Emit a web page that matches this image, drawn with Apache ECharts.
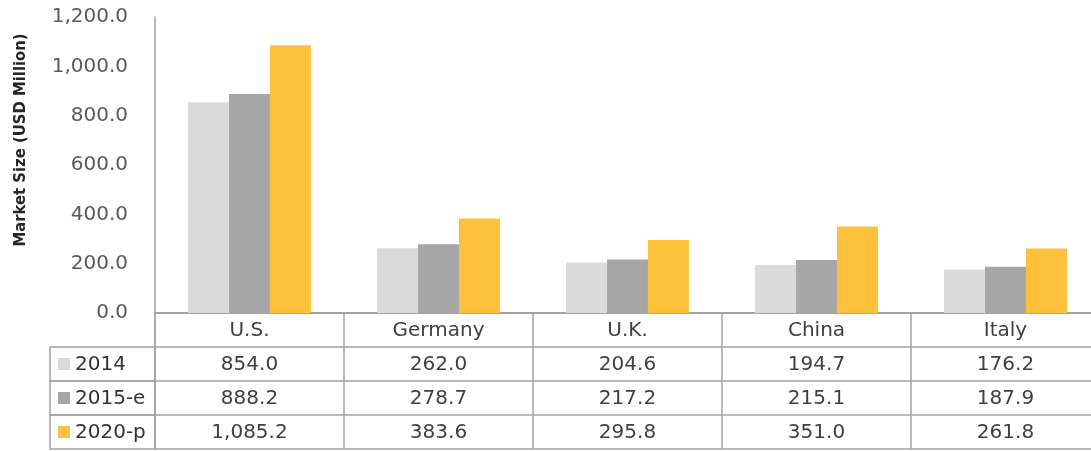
<!DOCTYPE html>
<html>
<head>
<meta charset="utf-8">
<script src="https://cdn.jsdelivr.net/npm/echarts@6/dist/echarts.min.js"></script>
<style>
  html, body { margin: 0; padding: 0; background: #ffffff; }
  #chart { width: 1091px; height: 451px; }
</style>
</head>
<body>
<div id="chart"></div>
<script>
// Market size by country, USD million
const categories = ['U.S.', 'Germany', 'U.K.', 'China', 'Italy'];
const seriesNames = ['2014', '2015-e', '2020-p'];
const values2014 = [854.0, 262.0, 204.6, 194.7, 176.2];
const values2015e = [888.2, 278.7, 217.2, 215.1, 187.9];
const values2020p = [1085.2, 383.6, 295.8, 351.0, 261.8];
const seriesColors = ['#dadada', '#a6a6a6', '#fdc13b'];
const axisTitle = 'Market Size (USD Million)';

const seriesValues = [values2014, values2015e, values2020p];
const FONT = '"DejaVu Sans", "Noto Sans", sans-serif';
const LINE = '#a3a3a3';
const TEXT_SIZE = 20;

function fmt(v) {
  return Number(v).toLocaleString('en-US', { minimumFractionDigits: 1, maximumFractionDigits: 1 });
}

// table cells: [column, row, value]; row 0 is the header row
const cellData = [];
seriesValues.forEach((vals, r) => vals.forEach((v, c) => cellData.push([c, r + 1, v])));
const legendCells = seriesNames.map((name, r) => [0, r + 1, r]);

const chart = echarts.init(document.getElementById('chart'), null, { renderer: 'canvas' });

const barSeries = seriesNames.map((name, i) => ({
  name: name,
  type: 'bar',
  xAxisIndex: 0,
  yAxisIndex: 0,
  data: seriesValues[i],
  barGap: '0%',
  barCategoryGap: '35%',
  itemStyle: { color: seriesColors[i] },
  silent: true
}));

chart.setOption({
  animation: false,
  backgroundColor: '#ffffff',
  grid: [
    { left: 155, top: 17, width: 945, height: 296, outerBoundsMode: 'none', containLabel: false },
    { left: 155, top: 313, width: 945, height: 136, outerBoundsMode: 'none', containLabel: false }
  ],
  xAxis: [
    {
      gridIndex: 0,
      type: 'category',
      position: 'bottom',
      data: categories,
      axisLine: { show: true, lineStyle: { color: LINE, width: 2 } },
      axisTick: { show: false },
      axisLabel: { margin: 8, fontSize: TEXT_SIZE, fontFamily: FONT, color: '#404040' },
      splitLine: { show: false }
    },
    {
      gridIndex: 1,
      type: 'category',
      data: categories,
      position: 'top',
      axisLine: { show: false },
      axisTick: { show: false },
      axisLabel: { show: false },
      splitLine: { show: true, showMaxLine: false, lineStyle: { color: LINE, width: 1.5 } }
    }
  ],
  yAxis: [
    {
      gridIndex: 0,
      type: 'value',
      position: 'left',
      min: 0,
      max: 1200,
      interval: 200,
      axisLine: { show: true, lineStyle: { color: LINE, width: 1.5 } },
      axisTick: { show: false },
      splitLine: { show: false },
      axisLabel: {
        margin: 27,
        fontSize: TEXT_SIZE,
        fontFamily: FONT,
        color: '#5a5a5a',
        formatter: v => fmt(v)
      }
    },
    {
      gridIndex: 1,
      type: 'category',
      position: 'left',
      inverse: true,
      data: ['', ...seriesNames],
      axisLine: { show: true, lineStyle: { color: LINE, width: 1.5 } },
      axisTick: { show: false },
      axisLabel: { show: false },
      splitLine: { show: true, lineStyle: { color: LINE, width: 1.5 } }
    }
  ],
  graphic: [
    {
      type: 'text',
      x: 21,
      y: 140,
      rotation: Math.PI / 2,
      style: {
        text: axisTitle,
        fontSize: 16.5,
        fontWeight: 'bold',
        fontFamily: '"DejaVu Sans Condensed", "Liberation Sans Narrow", "DejaVu Sans", sans-serif',
        fill: '#262626',
        align: 'center',
        verticalAlign: 'middle'
      }
    }
  ],
  series: [
    ...barSeries,
    {
      // value cells of the data table
      type: 'custom',
      xAxisIndex: 1,
      yAxisIndex: 1,
      silent: true,
      data: cellData,
      renderItem: function (params, api) {
        const p = api.coord([api.value(0), api.value(1)]);
        return {
          type: 'text',
          x: p[0],
          y: p[1] + 1,
          style: {
            text: fmt(api.value(2)),
            fontSize: TEXT_SIZE,
            fontFamily: FONT,
            fill: '#404040',
            align: 'center',
            verticalAlign: 'middle'
          }
        };
      }
    },
    {
      // legend column on the left of the data table
      type: 'custom',
      xAxisIndex: 1,
      yAxisIndex: 1,
      silent: true,
      data: legendCells,
      renderItem: function (params, api) {
        const p = api.coord([0, api.value(1)]);
        const s = api.size([1, 1]);
        const right = p[0] - s[0] / 2;
        const top = p[1] - s[1] / 2;
        const w = 105;
        const idx = api.value(2);
        return {
          type: 'group',
          children: [
            {
              type: 'rect',
              shape: { x: right - w, y: top, width: w, height: s[1] },
              style: { fill: 'none', stroke: LINE, lineWidth: 1.5 }
            },
            {
              type: 'rect',
              shape: { x: right - w + 8, y: p[1] - 6, width: 12, height: 12 },
              style: { fill: seriesColors[idx] }
            },
            {
              type: 'text',
              x: right - w + 25,
              y: p[1] + 1,
              style: {
                text: seriesNames[idx],
                fontSize: TEXT_SIZE,
                fontFamily: FONT,
                fill: '#333333',
                align: 'left',
                verticalAlign: 'middle'
              }
            }
          ]
        };
      }
    }
  ]
});
</script>
</body>
</html>
